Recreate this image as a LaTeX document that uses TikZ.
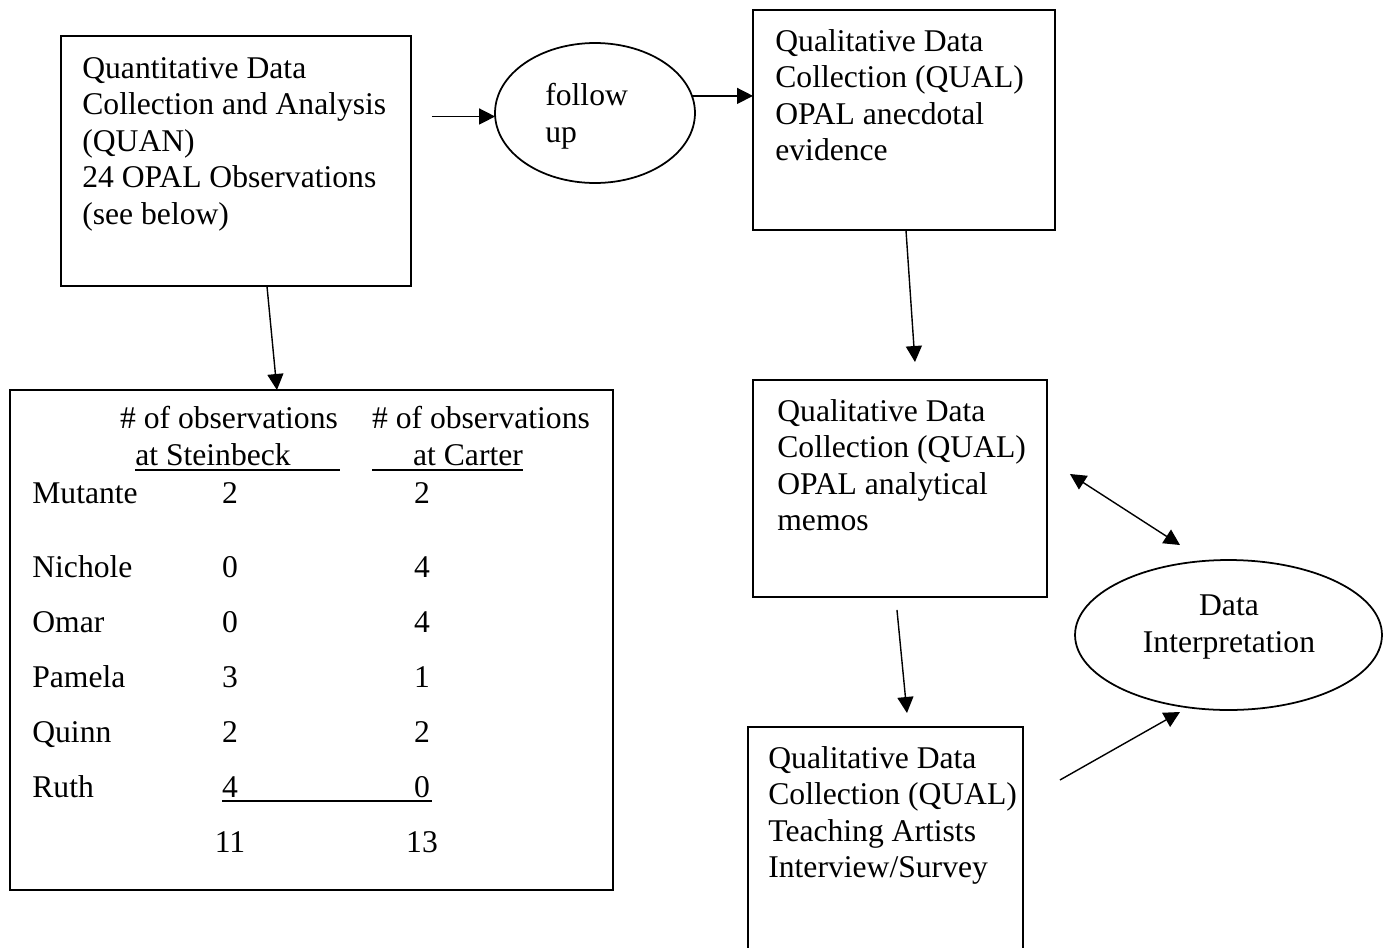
\documentclass[tikz,border=0pt]{standalone}
\usepackage{fontspec}
\setmainfont{Liberation Serif}
\usepackage{tikz}
\usetikzlibrary{shapes.geometric,arrows.meta,positioning}
\tikzstyle{box}=[draw,rectangle,line width=1pt,inner sep=0pt,outer sep=0pt,anchor=north west]
\tikzstyle{oval}=[draw,ellipse,line width=1pt,inner sep=0pt,outer sep=0pt]
\tikzstyle{words}=[inner sep=0pt,anchor=base west,align=left,font=\fontsize{18}{20.8}\selectfont]
\tikzstyle{nums}=[inner sep=0pt,anchor=base,align=center,font=\fontsize{18}{20.8}\selectfont]
\tikzstyle{arr}=[line width=0.8pt,-{Triangle[length=0.32cm,width=0.32cm]}]
\tikzstyle{dblarr}=[line width=0.8pt,{Triangle[length=0.32cm,width=0.32cm]}-{Triangle[length=0.32cm,width=0.32cm]}]

\begin{document}
\begin{tikzpicture}[x=0.02cm,y=-0.02cm]
\useasboundingbox (0,0) rectangle (1390,947);
% boxes and ovals
\node[box,minimum width=7.0cm,minimum height=5.0cm] (quan) at (61,36) {};
\node[oval,minimum width=4.0cm,minimum height=2.8cm] (follow) at (595,113) {};
\node[box,minimum width=6.04cm,minimum height=4.4cm] (qualA) at (753,10) {};
\node[box,minimum width=5.88cm,minimum height=4.34cm] (qualB) at (753,380) {};
\node[box,minimum width=5.5cm,minimum height=4.46cm] (qualC) at (748,727) {};
\node[oval,minimum width=6.14cm,minimum height=3.0cm] (interp) at (1228.5,635) {};
\node[box,minimum width=12.06cm,minimum height=10.0cm] (obs) at (10,390) {};
% texts (base = last line)
\node[words] (quanT) at (82,224.5) {Quantitative Data\\Collection and Analysis\\(QUAN)\\24 OPAL Observations\\(see below)};
\node[words] (followT) at (545,142.25) {follow\\up};
\node[words] (qualAT) at (775,160.75) {Qualitative Data\\Collection (QUAL)\\OPAL anecdotal\\evidence};
\node[words] (qualBT) at (777,530.75) {Qualitative Data\\Collection (QUAL)\\OPAL analytical\\memos};
\node[words] (qualCT) at (768,877.75) {Qualitative Data\\Collection (QUAL)\\Teaching Artists\\Interview/Survey};
\node[nums] (interpT) at (1229,652.25) {Data\\Interpretation};
% table
\node[nums] (headS) at (229,428) {\# of observations};
\node[nums] (headC) at (481,428) {\# of observations};
\node[nums] (atS) at (213,465) {at Steinbeck};
\node[nums] (atC) at (468,465) {at Carter};
\draw[line width=1.2pt] (135,470) -- (340,470);
\draw[line width=1.2pt] (372,470) -- (523,470);
\foreach \y/\who/\sb/\ct in {503/Mutante/2/2,577/Nichole/0/4,632/Omar/0/4,
                             687/Pamela/3/1,742/Quinn/2/2,797/Ruth/4/0}{
  \node[words] (\who) at (32,\y) {\who};
  \node[nums] (\who-s) at (230,\y) {\sb};
  \node[nums] (\who-c) at (422,\y) {\ct};
}
\draw[line width=1.2pt] (222,801) -- (432,801);
\node[nums] (sumS) at (230,852) {11};
\node[nums] (sumC) at (422,852) {13};
% arrows
\draw[arr,shorten <=0.42cm] (quan.east |- follow.182) -- (follow.182);
\draw[arr] (follow.10) -- (qualA.west |- follow.10);
\draw[arr] ([xshift=0.04cm]qualA.south) -- ([xshift=0.3cm,yshift=0.36cm]qualB.north);
\draw[arr] ([xshift=-0.06cm,yshift=-0.26cm]qualB.south) -- ([xshift=0.43cm,yshift=0.28cm]qualC.north);
\draw[arr] ([xshift=0.62cm]quan.south) -- ([xshift=-0.69cm]obs.north);
\draw[dblarr] ([xshift=0.46cm,yshift=0.29cm]qualB.east) -- ([xshift=-0.97cm,yshift=0.3cm]interp.north);
\draw[arr] ([xshift=0.74cm,yshift=1.17cm]qualC.east) -- ([xshift=-0.97cm,yshift=-0.04cm]interp.south);
\end{tikzpicture}
\end{document}
